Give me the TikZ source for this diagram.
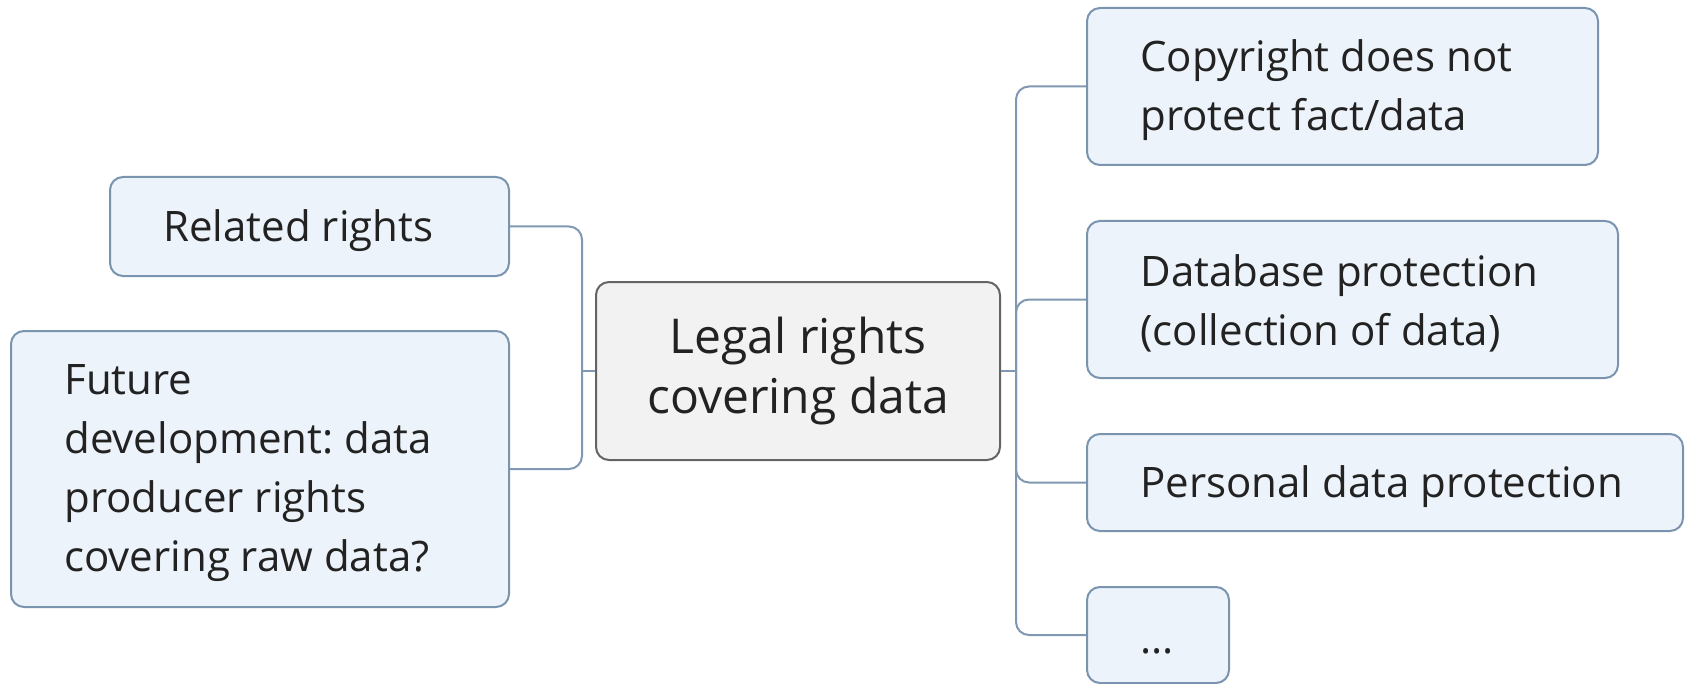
\documentclass[tikz,border=0pt]{standalone}
\usepackage{fontspec}
\setmainfont{Open Sans}
\frenchspacing
\definecolor{boxfill}{RGB}{237,243,250}
\definecolor{boxline}{RGB}{122,148,175}
\definecolor{connline}{RGB}{128,152,178}
\definecolor{cenfill}{RGB}{242,242,242}
\definecolor{cenline}{RGB}{100,100,100}
\definecolor{txt}{RGB}{34,34,34}
\begin{document}
\begin{tikzpicture}[x=0.5pt,y=-0.5pt,
  every node/.style={font=\fontsize{21}{29.5}\selectfont, text=txt},
  topic/.style={draw=boxline, fill=boxfill, line width=1pt, rounded corners=6.5pt, inner sep=0pt},
  ttext/.style={anchor=west, inner sep=0pt, align=left},
  central/.style={draw=cenline, fill=cenfill, line width=1pt, rounded corners=6.5pt,
    inner sep=0pt, align=center, font=\fontsize{24}{30}\selectfont},
  conn/.style={draw=connline, line width=1pt, rounded corners=6.5pt}]
\useasboundingbox (0,0) rectangle (1685,684);

\node[central, minimum width=202pt, minimum height=89pt] (cen) at (798,371) {Legal rights\\covering data};

\node[topic, minimum width=199.5pt, minimum height=49.5pt] (rel) at (309.5,226.5) {};
\node[topic, minimum width=249pt, minimum height=138pt] (fut) at (260,469) {};
\node[topic, minimum width=255.5pt, minimum height=78.5pt] (copy) at (1342.5,86.5) {};
\node[topic, minimum width=265.5pt, minimum height=78.5pt] (db) at (1352.5,299.5) {};
\node[topic, minimum width=298pt, minimum height=48.5pt] (pers) at (1385,482.5) {};
\node[topic, minimum width=71pt, minimum height=48pt] (dots) at (1158,635) {};

\node[ttext] (relT) at ([xshift=27pt,yshift=-2pt]rel.west) {Related rights};
\node[ttext] (futT) at ([xshift=27pt,yshift=-2pt]fut.west) {Future\\development: data\\producer rights\\covering raw data?};
\node[ttext] (copyT) at ([xshift=27pt,yshift=-2pt]copy.west) {Copyright does not\\protect fact/data};
\node[ttext] (dbT) at ([xshift=27pt,yshift=-2pt]db.west) {Database protection\\(collection of data)};
\node[ttext] (persT) at ([xshift=27pt,yshift=-2pt]pers.west) {Personal data protection};
\node[ttext] (dotsT) at ([xshift=27pt,yshift=-8pt]dots.west) {...};

\coordinate (lx) at (582,371);
\coordinate (rx) at (1016,371);

\draw[conn] (cen.west) -- (lx |- cen.west);
\draw[conn] (lx |- cen.west) -- (lx |- rel.east) -- (rel.east);
\draw[conn] (lx |- cen.west) -- (lx |- fut.east) -- (fut.east);

\draw[conn] (cen.east) -- (rx |- cen.east);
\draw[conn] (rx |- cen.east) -- (rx |- copy.west) -- (copy.west);
\draw[conn] (rx |- cen.east) -- (rx |- db.west) -- (db.west);
\draw[conn] (rx |- cen.east) -- (rx |- pers.west) -- (pers.west);
\draw[conn] (rx |- cen.east) -- (rx |- dots.west) -- (dots.west);
\end{tikzpicture}
\end{document}
